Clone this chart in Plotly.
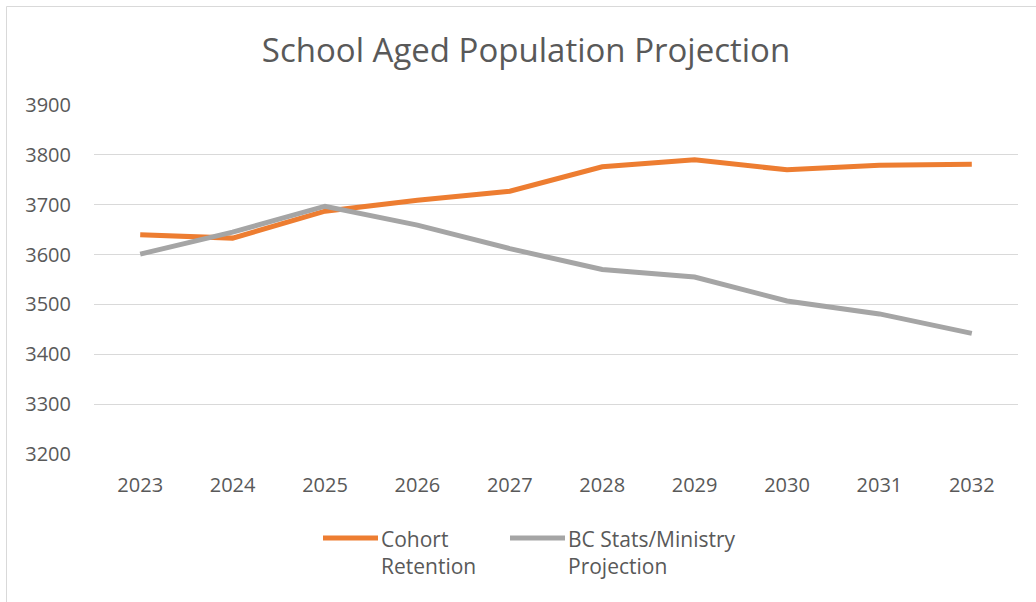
import plotly.graph_objects as go

years = ["2023", "2024", "2025", "2026", "2027", "2028", "2029", "2030", "2031", "2032"]
cohort_retention = [3640, 3633, 3687, 3709, 3727, 3776, 3790, 3770, 3779, 3781]
bc_stats_ministry = [3601, 3645, 3697, 3659, 3612, 3570, 3555, 3507, 3481, 3442]
series_names = ["Cohort<br>Retention", "BC Stats/Ministry<br>Projection"]
series_colors = ["#ED7D31", "#A5A5A5"]
y_ticks = [3200, 3300, 3400, 3500, 3600, 3700, 3800, 3900]

TEXT = "#595959"
FONT = "Open Sans"

W, H = 1036, 602
L, R, T, B = 94, 18, 104, 147
pw, ph = W - L - R, H - T - B


def px(X):
    return (X - L) / pw


def py(Y):
    return (H - B - Y) / ph


fig = go.Figure()
for name, vals, col in zip(series_names, [cohort_retention, bc_stats_ministry], series_colors):
    fig.add_trace(go.Scatter(x=years, y=vals, mode="lines", name=name,
                             line=dict(color=col, width=5), showlegend=False))

shapes = []
annotations = []
# custom legend
leg = [(323, 378, 379), (510, 565, 566)]
for (x0, x1, tx), name, col in zip(leg, series_names, series_colors):
    shapes.append(dict(type="line", xref="paper", yref="paper",
                       x0=px(x0), x1=px(x1), y0=py(538), y1=py(538),
                       line=dict(color=col, width=5)))
    annotations.append(dict(xref="paper", yref="paper", x=px(tx), y=py(552),
                            xanchor="left", yanchor="middle", align="left",
                            text=name, showarrow=False,
                            font=dict(family=FONT, size=21, color=TEXT)))
# chart border
shapes.append(dict(type="rect", xref="paper", yref="paper",
                   x0=px(6.5), x1=px(1045), y0=py(6.5), y1=py(610),
                   line=dict(color="#D9D9D9", width=1), fillcolor="rgba(0,0,0,0)"))

fig.update_layout(
    width=W, height=H,
    margin=dict(l=L, r=R, t=T, b=B),
    paper_bgcolor="white", plot_bgcolor="white",
    font=dict(family=FONT, color=TEXT, size=20),
    title=dict(text="School Aged Population Projection", x=526 / W, xref="container",
               xanchor="center", y=1 - 50 / H, yref="container", yanchor="middle",
               font=dict(family=FONT, size=33, color=TEXT)),
    shapes=shapes,
    annotations=annotations,
    xaxis=dict(type="category", range=[-0.5, 9.5], showgrid=False, showline=False,
               zeroline=False, ticks="", ticklabelstandoff=16,
               tickfont=dict(family=FONT, size=20, color=TEXT)),
    yaxis=dict(range=[3198, 3902], tickvals=y_ticks, showgrid=True, gridcolor="#D9D9D9",
               gridwidth=1, showline=False, zeroline=False, ticks="",
               ticklabelstandoff=22, tickfont=dict(family=FONT, size=20, color=TEXT)),
)

fig.write_html("out.html", config={"displayModeBar": False},
               post_script="document.body.style.margin='0';document.body.style.overflow='hidden';")
